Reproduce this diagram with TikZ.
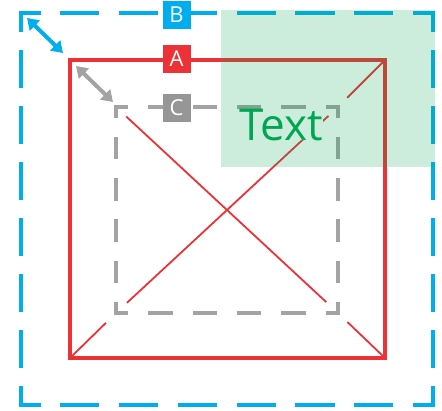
\documentclass[tikz,border=0pt]{standalone}
\usepackage{fontspec}
\setmainfont{Open Sans}
\usetikzlibrary{arrows.meta}
\definecolor{cblue}{RGB}{0,174,239}
\definecolor{cred}{RGB}{237,50,55}
\definecolor{cgray}{RGB}{163,163,163}
\definecolor{cdgray}{RGB}{150,150,150}
\definecolor{cgreen}{RGB}{0,166,81}

\begin{document}
\begin{tikzpicture}[x=1pt, y=-1pt,
	bluehor/.style = {cblue, line width=4pt, line cap=rect, dash pattern=on 35.2pt off 23.6pt, dash phase=17.6pt},
	bluever/.style = {cblue, line width=4pt, line cap=rect, dash pattern=on 33.3pt off 22.7pt, dash phase=16.7pt},
	grayhor/.style = {cgray, line width=4pt, line cap=rect, dash pattern=on 20.4pt off 24pt, dash phase=10.2pt},
	grayver/.style = {cgray, line width=4pt, line cap=rect, dash pattern=on 18.4pt off 22.8pt, dash phase=9.2pt},
	diag/.style = {cred, line width=1.8pt},
	twohead/.style = {line width=4pt, {Triangle[length=11pt,width=14pt]}-{Triangle[length=11pt,width=14pt]}},
	lbl/.style = {fill=#1, text=white, minimum size=28pt, inner sep=0pt, font=\fontsize{22}{22}\selectfont}]
	
	\useasboundingbox (0,0) rectangle (442,410);
	
	% corners of the three frames
	\coordinate (b1) at (21,13);  \coordinate (b2) at (433,13);
	\coordinate (b3) at (433,405); \coordinate (b4) at (21,405);
	\coordinate (a1) at (70,60);  \coordinate (a2) at (385,60);
	\coordinate (a3) at (385,358); \coordinate (a4) at (70,358);
	\coordinate (c1) at (116,107); \coordinate (c2) at (338,107);
	\coordinate (c3) at (338,313); \coordinate (c4) at (116,313);
	
	% outer frame B
	\draw[bluehor] (b1) -- (b2);
	\draw[bluehor] (b4) -- (b3);
	\draw[bluever] (b1) -- (b4);
	\draw[bluever] (b2) -- (b3);
	
	\coordinate (bt1) at (27,18); \coordinate (bt2) at (63,53);
	\draw[twohead, cblue] (bt1) -- (bt2);
	
	% frame A
	\draw[cred, line width=4pt] (a1) rectangle (a3);
	
	\coordinate (ct1) at (76,66); \coordinate (ct2) at (113,102);
	\draw[twohead, cgray] (ct1) -- (ct2);
	
	% diagonals
	\draw[diag, shorten >=14pt] (a4) -- (c4);
	\draw[diag, shorten <=15pt, shorten >=13pt] (c4) -- (c2);
	\draw[diag, shorten <=13pt] (c2) -- (a2);
	\draw[diag, shorten <=14pt, shorten >=16pt] (c1) -- (c3);
	\draw[diag, shorten <=13pt] (c3) -- (a3);
	
	% inner frame C
	\draw[grayhor] (c1) -- (c2);
	\draw[grayhor] (c4) -- (c3);
	\draw[grayver] (c1) -- (c4);
	\draw[grayver] (c2) -- (c3);
	
	\node[font=\fontsize{44}{44}\selectfont, text=cgreen, fill=white, inner sep=0pt, anchor=base] (txt) at (281,140) {Text};
	
	% labels
	\node[lbl=cblue]  (labB) at (176.5,15) {B};
	\node[lbl=cred]   (labA) at (176.5,59) {A};
	\node[lbl=cdgray] (labC) at (176.5,108) {C};
	
	% text area
	\fill[cgreen, opacity=0.2] (221,10) rectangle (435,167);
\end{tikzpicture}
\end{document}
